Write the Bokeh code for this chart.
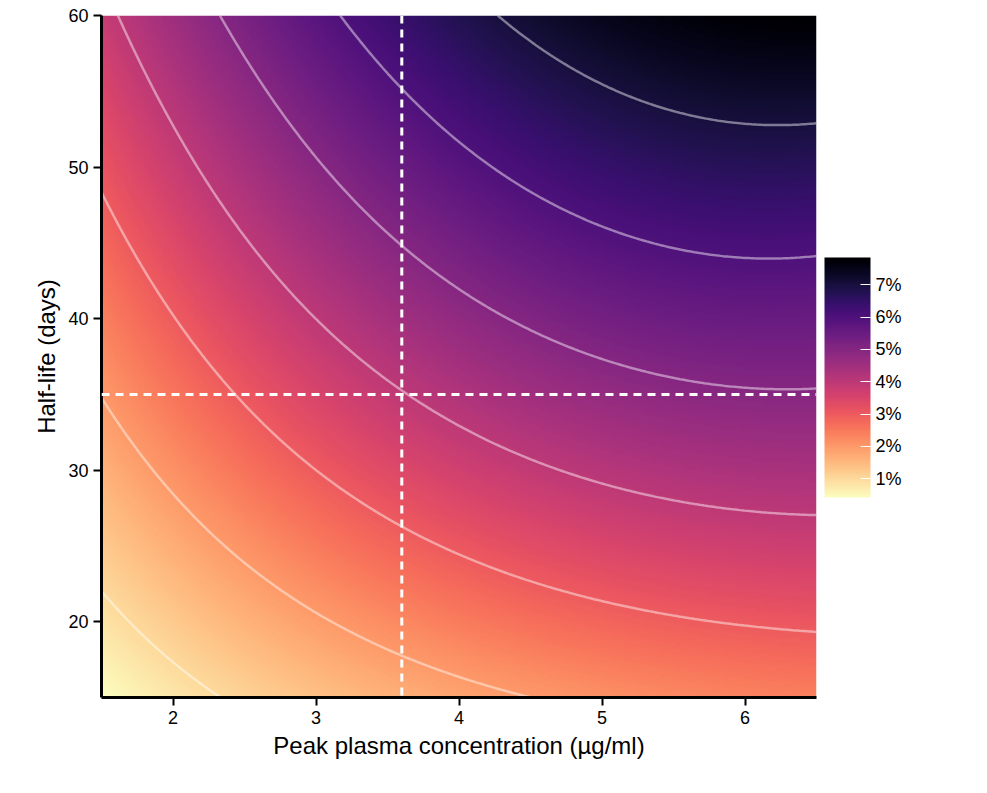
import numpy as np
from bokeh.plotting import figure
from bokeh.models import LinearColorMapper, ColorBar, Span, FixedTicker, PrintfTickFormatter, Range1d, Label
from bokeh.palettes import Magma256
from bokeh.embed import file_html
from bokeh.resources import INLINE

# Contour positions: half-life (days) at which PIA reaches each level (%)
col_x = [1.5, 2.0, 2.5, 3.0, 3.5, 4.0, 5.0, 6.0, 6.5]
col_levels = [
    [0, 1, 2, 3, 4, 5],
    [0, 1, 2, 3, 4, 5],
    [0, 1, 2, 3, 4, 5, 6],
    [0, 1, 2, 3, 4, 5, 6, 7],
    [0, 1, 2, 3, 4, 5, 6, 7],
    [0, 1, 2, 3, 4, 5, 6, 7, 8],
    [0, 1, 2, 3, 4, 5, 6, 7, 8],
    [0, 1, 2, 3, 4, 5, 6, 7, 8],
    [0, 1, 2, 3, 4, 5, 6, 7, 8],
]
col_y = [
    [10, 22.5, 34, 47.5, 61, 75],
    [7, 18, 28, 40, 56, 70],
    [4, 14, 24, 34, 47, 56, 68],
    [3, 12, 21, 29.5, 41.5, 50, 61, 75],
    [2, 10.5, 17.5, 26.5, 36, 45, 55, 68],
    [1, 9.5, 15, 24, 33, 42, 51.5, 62.5, 75],
    [0, 8, 13, 21.4, 29.5, 38, 46, 55.5, 66],
    [0, 7, 12, 19.8, 27.5, 35.8, 44.5, 53, 62],
    [0, 7, 11.5, 19.3, 27, 35, 44, 52.7, 61],
]
contour_levels = [1, 2, 3, 4, 5, 6, 7]
ref_conc = 3.6
ref_halflife = 35

xf = np.linspace(1.5, 6.5, 300)
yf = np.linspace(15, 60, 300)
# smooth fit of each read column, then smooth across columns
cols = np.array([np.polyval(np.polyfit(cy, cl, 3), yf) for cy, cl in zip(col_y, col_levels)])
Z = np.array([np.polyval(np.polyfit(col_x, cols[:, j], 3), xf) for j in range(len(yf))])

mapper = LinearColorMapper(palette=list(reversed(Magma256)), low=float(Z.min()), high=float(Z.max()))

p = figure(frame_width=715, frame_height=682, output_backend="svg", toolbar_location=None,
           x_range=Range1d(1.5, 6.5), y_range=Range1d(15, 60),
           min_border_left=101, min_border_top=15, min_border_bottom=80, min_border_right=10,
           x_axis_label="Peak plasma concentration (µg/ml)", y_axis_label="Half-life (days)")
p.image(image=[Z], x=1.5, y=15, dw=5, dh=45, color_mapper=mapper)
p.contour(x=xf, y=yf, z=Z, levels=contour_levels, line_color="white", line_alpha=0.45, line_width=2.5)
p.add_layout(Span(location=ref_conc, dimension="height", line_color="white", line_width=3, line_dash="8 6"))
p.add_layout(Span(location=ref_halflife, dimension="width", line_color="white", line_width=3, line_dash="8 6"))

p.grid.visible = False
p.outline_line_color = None
for ax in (p.xaxis[0], p.yaxis[0]):
    ax.axis_line_width = 3
    ax.axis_line_color = "black"
    ax.major_tick_line_width = 2
    ax.major_tick_out = 8
    ax.major_tick_in = 0
    ax.minor_tick_line_color = None
    ax.major_label_text_font = "Liberation Sans"
    ax.major_label_text_font_size = "18px"
    ax.major_label_text_color = "black"
    ax.axis_label_text_font = "Liberation Sans"
    ax.axis_label_text_font_size = "24px"
    ax.axis_label_text_font_style = "normal"
    ax.axis_label_text_color = "black"
p.xaxis.ticker = FixedTicker(ticks=[2, 3, 4, 5, 6])
p.yaxis.ticker = FixedTicker(ticks=[20, 30, 40, 50, 60])

cb = ColorBar(color_mapper=mapper, width=46, height=240, location=(0, 192),
              ticker=FixedTicker(ticks=contour_levels),
              formatter=PrintfTickFormatter(format="%d%%"),
              major_label_text_font="Liberation Sans", major_label_text_font_size="18px",
              major_label_text_color="black",
              major_tick_line_color="white", major_tick_in=10, major_tick_out=0,
              bar_line_color=None, padding=8, margin=30, background_fill_color=None)
p.add_layout(cb, "right")
p.add_layout(Label(x=6.5 + 46 / 143, y=60 - 243 / 15.16, text="PIA", text_font="Liberation Sans",
                   text_font_size="22px", text_baseline="bottom", text_color="black"))

open("out.html", "w").write(file_html(p, INLINE))
